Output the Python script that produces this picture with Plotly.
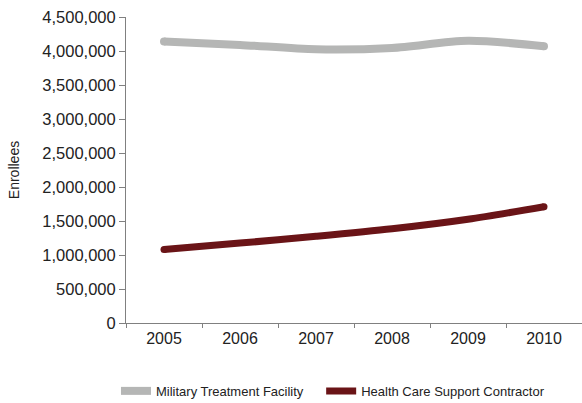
import plotly.graph_objects as go

years = ["2005", "2006", "2007", "2008", "2009", "2010"]
military_treatment_facility = [4140000, 4090000, 4025000, 4045000, 4150000, 4070000]
health_care_support_contractor = [1080000, 1175000, 1275000, 1385000, 1525000, 1710000]

y_ticks = [0, 500000, 1000000, 1500000, 2000000, 2500000, 3000000, 3500000, 4000000, 4500000]

series = [
    ("Military Treatment Facility", military_treatment_facility, "#b5b6b5", 8, "legend"),
    ("Health Care Support Contractor", health_care_support_contractor, "#6a1417", 7, "legend2"),
]

fig = go.Figure()
for name, values, color, width, legend_id in series:
    fig.add_trace(go.Scatter(
        x=years, y=values, name=name, mode="lines", legend=legend_id,
        line=dict(color=color, width=width, shape="spline", smoothing=0.8),
    ))
    # rounded line ends
    fig.add_trace(go.Scatter(
        x=[years[0], years[-1]], y=[values[0], values[-1]], mode="markers",
        marker=dict(color=color, size=width, line=dict(width=0)),
        showlegend=False, hoverinfo="skip",
    ))

legend_style = dict(
    orientation="h", xanchor="left", y=-0.222, yanchor="middle",
    font=dict(family="Liberation Sans, Arial, sans-serif", size=13, color="#222222"),
    itemwidth=30, bgcolor="rgba(0,0,0,0)",
)

fig.update_layout(
    width=582, height=403,
    margin=dict(l=126, r=0, t=17, b=80, autoexpand=False),
    paper_bgcolor="white", plot_bgcolor="white",
    font=dict(family="Liberation Sans, Arial, sans-serif", color="#222222", size=16),
    showlegend=True,
    legend=dict(x=-0.022, **legend_style),
    legend2=dict(x=0.428, **legend_style),
    xaxis=dict(
        type="category", range=[-0.5, 5.5], automargin=False,
        showline=True, linecolor="#808080", linewidth=1,
        ticks="outside", tickson="boundaries", ticklen=4, tickcolor="#808080",
        ticklabelstandoff=1,
        showgrid=False, zeroline=False,
        tickfont=dict(size=16),
    ),
    yaxis=dict(
        range=[0, 4500000], tickvals=y_ticks, tickformat=",d", automargin=False,
        showline=True, linecolor="#808080", linewidth=1,
        ticks="outside", ticklen=6, tickcolor="#808080",
        showgrid=False, zeroline=False,
        tickfont=dict(size=16.5),
        title=dict(text="Enrollees", standoff=19,
                   font=dict(family="Liberation Sans, Arial, sans-serif", size=14)),
    ),
)

fig.write_html("out.html")
